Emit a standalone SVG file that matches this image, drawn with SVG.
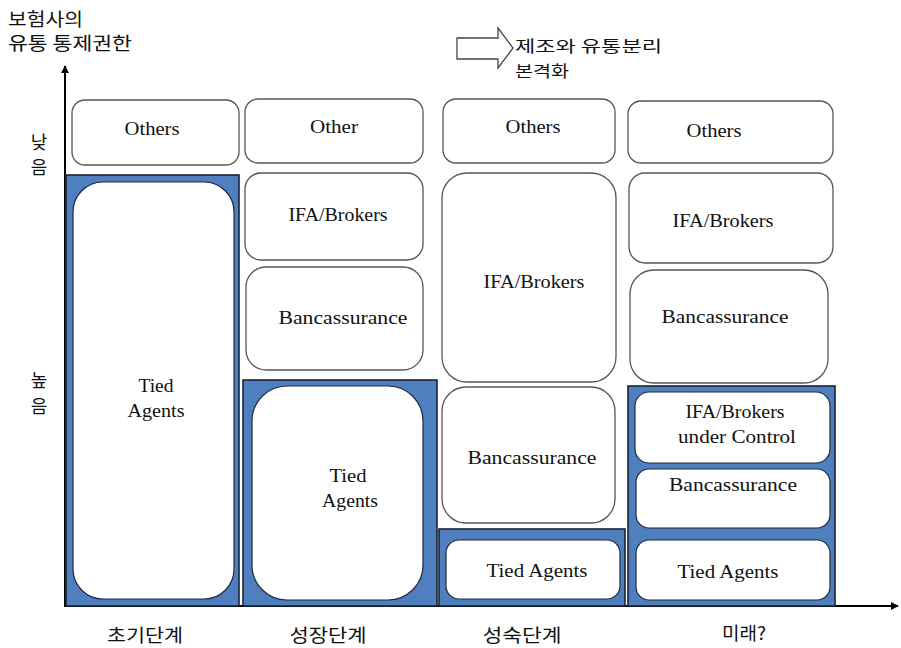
<svg xmlns="http://www.w3.org/2000/svg" width="901" height="648" viewBox="0 0 901 648">
<style>
.box{fill:#fff;stroke:#555;stroke-width:1.3}
.blue{fill:#4f7fbf;stroke:#1a2436;stroke-width:1.6}
.inner{fill:#fff;stroke:#1f2a3c;stroke-width:1.2}
.en{font-family:"Liberation Serif","Times New Roman",serif;font-size:18px;fill:#111;text-anchor:middle}
.ko{font-family:"Noto Sans CJK KR","Noto Sans",sans-serif;font-size:18px;fill:#111}
.ko2{font-family:"Noto Sans CJK KR","Noto Sans",sans-serif;font-size:16px;fill:#111}
.kom{font-family:"Noto Sans CJK KR","Noto Sans",sans-serif;font-size:18px;fill:#111;text-anchor:middle}
.axis{stroke:#000;stroke-width:2;fill:none}
</style>
<defs>
<marker id="ah" viewBox="0 0 10 10" refX="9" refY="5" markerWidth="4" markerHeight="4" orient="auto" markerUnits="strokeWidth">
<path d="M0,0 L10,5 L0,10 z" fill="#000"/>
</marker>
</defs>
<rect width="901" height="648" fill="#fff"/>

<g id="title">
<text class="ko" x="8" y="26" textLength="75" lengthAdjust="spacingAndGlyphs">보험사의</text>
<text class="ko" x="8" y="50" textLength="124" lengthAdjust="spacingAndGlyphs">유통 통제권한</text>
</g>

<g id="ylabels">
<text class="kom" x="39" y="149">낮</text>
<text class="kom" x="39" y="174">음</text>
<text class="kom" x="39" y="387">높</text>
<text class="kom" x="39" y="413">음</text>
</g>

<g id="connectors">
<line class="axis" x1="65" y1="607" x2="65" y2="66" marker-end="url(#ah)"/>
<line class="axis" x1="64" y1="606" x2="898" y2="606" marker-end="url(#ah)"/>
</g>

<g id="shift-arrow">
<path d="M457,38 L498,38 L498,28 L513,48 L498,68 L498,59 L457,59 Z" fill="#fff" stroke="#444" stroke-width="1.3"/>
<text class="ko2" x="515" y="52" textLength="147" lengthAdjust="spacingAndGlyphs">제조와 유통분리</text>
<text class="ko2" x="515" y="77" textLength="54" lengthAdjust="spacingAndGlyphs">본격화</text>
</g>

<!-- Column 1 -->
<g id="c1-others">
<rect class="box" x="72" y="100" width="167" height="65" rx="13"/>
<text class="en" x="152" y="135" textLength="55" lengthAdjust="spacingAndGlyphs">Others</text>
</g>
<g id="c1-tied">
<rect class="blue" x="66" y="175" width="173" height="431"/>
<rect class="inner" x="73" y="182" width="161" height="417" rx="30"/>
<text class="en" x="156" y="392" textLength="35" lengthAdjust="spacingAndGlyphs">Tied</text>
<text class="en" x="156" y="417" textLength="57" lengthAdjust="spacingAndGlyphs">Agents</text>
</g>

<!-- Column 2 -->
<g id="c2-other">
<rect class="box" x="245" y="99" width="178" height="64" rx="13"/>
<text class="en" x="334" y="133" textLength="48" lengthAdjust="spacingAndGlyphs">Other</text>
</g>
<g id="c2-ifa">
<rect class="box" x="245" y="173" width="178" height="87" rx="16"/>
<text class="en" x="338" y="221" textLength="99" lengthAdjust="spacingAndGlyphs">IFA/Brokers</text>
</g>
<g id="c2-banca">
<rect class="box" x="246" y="267" width="177" height="103" rx="20"/>
<text class="en" x="343" y="324" textLength="129" lengthAdjust="spacingAndGlyphs">Bancassurance</text>
</g>
<g id="c2-tied">
<rect class="blue" x="243" y="380" width="194" height="226"/>
<rect class="inner" x="252" y="386" width="171" height="214" rx="35"/>
<text class="en" x="348" y="482" textLength="37" lengthAdjust="spacingAndGlyphs">Tied</text>
<text class="en" x="350" y="507" textLength="56" lengthAdjust="spacingAndGlyphs">Agents</text>
</g>

<!-- Column 3 -->
<g id="c3-others">
<rect class="box" x="443" y="99" width="172" height="64" rx="13"/>
<text class="en" x="533" y="133" textLength="55" lengthAdjust="spacingAndGlyphs">Others</text>
</g>
<g id="c3-ifa">
<rect class="box" x="442" y="173" width="174" height="209" rx="25"/>
<text class="en" x="534" y="288" textLength="101" lengthAdjust="spacingAndGlyphs">IFA/Brokers</text>
</g>
<g id="c3-banca">
<rect class="box" x="442" y="387" width="173" height="136" rx="24"/>
<text class="en" x="532" y="464" textLength="129" lengthAdjust="spacingAndGlyphs">Bancassurance</text>
</g>
<g id="c3-tied">
<rect class="blue" x="439" y="529" width="186" height="77"/>
<rect class="inner" x="446" y="540" width="174" height="59" rx="13"/>
<text class="en" x="537" y="577" textLength="101" lengthAdjust="spacingAndGlyphs">Tied Agents</text>
</g>

<!-- Column 4 -->
<g id="c4-others">
<rect class="box" x="628" y="101" width="205" height="62" rx="13"/>
<text class="en" x="714" y="137" textLength="55" lengthAdjust="spacingAndGlyphs">Others</text>
</g>
<g id="c4-ifa">
<rect class="box" x="629" y="173" width="204" height="90" rx="16"/>
<text class="en" x="723" y="227" textLength="101" lengthAdjust="spacingAndGlyphs">IFA/Brokers</text>
</g>
<g id="c4-banca">
<rect class="box" x="630" y="270" width="198" height="113" rx="24"/>
<text class="en" x="725" y="323" textLength="127" lengthAdjust="spacingAndGlyphs">Bancassurance</text>
</g>
<g id="c4-controlled">
<rect class="blue" x="628" y="386" width="207" height="220"/>
</g>
<g id="c4-ifa-control">
<rect class="inner" x="635" y="392" width="195" height="71" rx="14"/>
<text class="en" x="735" y="418" textLength="99" lengthAdjust="spacingAndGlyphs">IFA/Brokers</text>
<text class="en" x="737" y="443" textLength="118" lengthAdjust="spacingAndGlyphs">under Control</text>
</g>
<g id="c4-banca-control">
<rect class="inner" x="636" y="469" width="194" height="59" rx="13"/>
<text class="en" x="733" y="491" textLength="128" lengthAdjust="spacingAndGlyphs">Bancassurance</text>
</g>
<g id="c4-tied">
<rect class="inner" x="636" y="540" width="194" height="60" rx="13"/>
<text class="en" x="728" y="578" textLength="101" lengthAdjust="spacingAndGlyphs">Tied Agents</text>
</g>

<g id="xlabels">
<text class="kom" x="145" y="642" textLength="76" lengthAdjust="spacingAndGlyphs">초기단계</text>
<text class="kom" x="328" y="642" textLength="77" lengthAdjust="spacingAndGlyphs">성장단계</text>
<text class="kom" x="522" y="642" textLength="79" lengthAdjust="spacingAndGlyphs">성숙단계</text>
<text class="kom" x="744" y="640" textLength="44" lengthAdjust="spacingAndGlyphs">미래?</text>
</g>
</svg>
